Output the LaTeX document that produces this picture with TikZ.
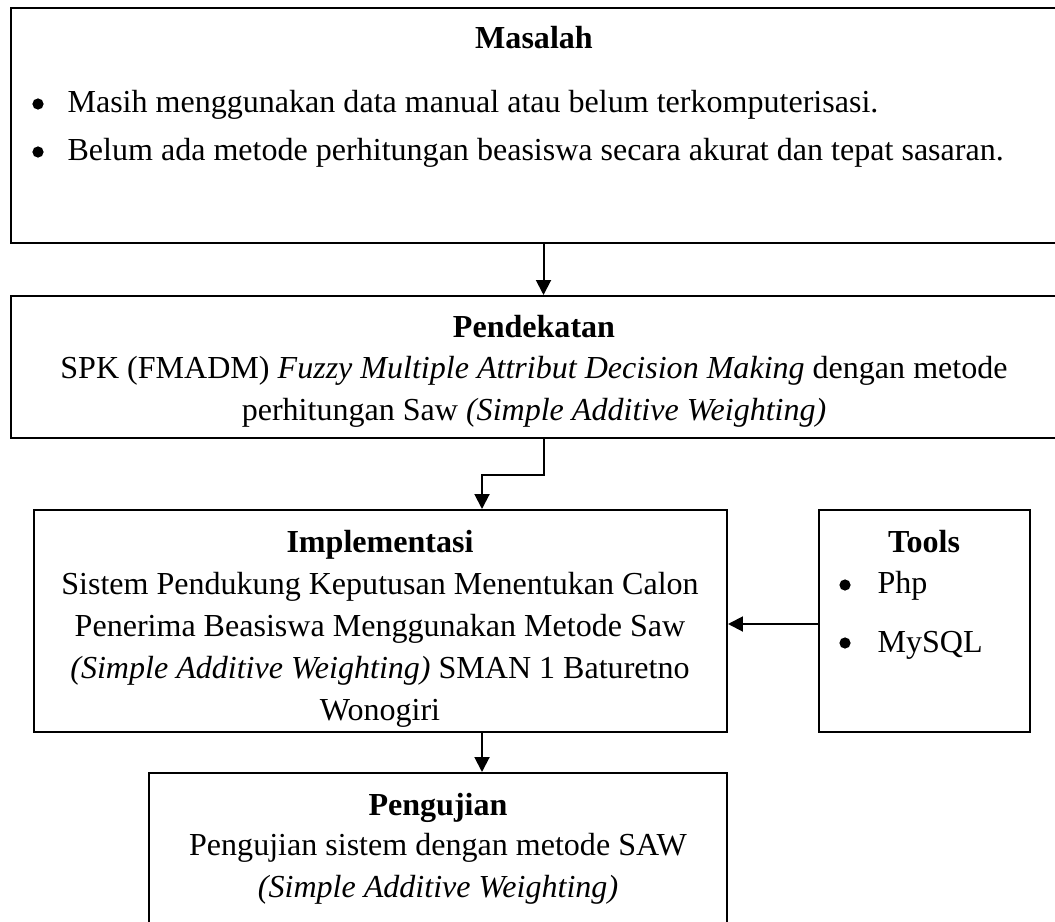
\documentclass[tikz,border=0pt]{standalone}
\usepackage{fontspec}
\setmainfont{Liberation Serif}
\usetikzlibrary{arrows.meta,fit,calc}

\tikzset{
  box/.style={draw, line width=0.75pt, inner sep=0pt},
  txt/.style={inner sep=0pt, font=\fontsize{12}{15.7}\selectfont},
  head/.style={txt, anchor=base, font=\fontsize{12}{15.7}\selectfont\bfseries},
  body/.style={txt, anchor=base, align=center},
  item/.style={txt, anchor=base west},
  dot/.style={circle, fill, inner sep=0pt, minimum size=4.2pt},
  arr/.style={-{Triangle[length=5.6pt,width=5.6pt]}, line width=0.75pt},
}

\begin{document}
\begin{tikzpicture}[x=0.3744pt, y=-0.3744pt]
    \useasboundingbox (0,0) rectangle (1055,922);
    \clip (0,0) rectangle (1055,922);

    % Boxes
    \node[box, fit={(11,8) (1058,243)}] (masalah) {};
    \node[box, fit={(11,296) (1058,438)}] (pendekatan) {};
    \node[box, fit={(34,510) (727,732)}] (implementasi) {};
    \node[box, fit={(819,510) (1030,732)}] (tools) {};
    \node[box, fit={(149,773) (727,950)}] (pengujian) {};

    % Masalah
    \node[head] (masalahT) at (534,49) {Masalah};
    \node[dot] (m1) at (38,104) {};
    \node[dot] (m2) at (38,152) {};
    \node[item] (m1T) at (67,113) {Masih menggunakan data manual atau belum terkomputerisasi.};
    \node[item] (m2T) at (67,161) {Belum ada metode perhitungan beasiswa secara akurat dan tepat sasaran.};

    % Pendekatan (base = last line)
    \node[head] (pendekatanT) at (534,337) {Pendekatan};
    \node[body] (pendekatanB) at (534,420) {SPK (FMADM) \textit{Fuzzy Multiple Attribut Decision Making} dengan metode\\
        perhitungan Saw \textit{(Simple Additive Weighting)}};

    % Implementasi
    \node[head] (implementasiT) at (380,552) {Implementasi};
    \node[body] (implementasiB) at (380,720) {Sistem Pendukung Keputusan Menentukan Calon\\
        Penerima Beasiswa Menggunakan Metode Saw\\
        \textit{(Simple Additive Weighting)} SMAN 1 Baturetno\\
        Wonogiri};

    % Tools
    \node[head] (toolsT) at (924,552) {Tools};
    \node[dot] (t1) at (845,585) {};
    \node[dot] (t2) at (845,643) {};
    \node[item] (t1T) at (877,593) {Php};
    \node[item] (t2T) at (877,652) {MySQL};

    % Pengujian
    \node[head] (pengujianT) at (438,815) {Pengujian};
    \node[body] (pengujianB) at (438,897) {Pengujian sistem dengan metode SAW\\
        \textit{(Simple Additive Weighting)}};

    % Arrows
    \draw[arr] ($(masalah.south)+(9,0)$) coordinate (a1) -- (a1 |- pendekatan.north);
    \draw[arr] ($(pendekatan.south)+(9,0)$) -- ++(0,36) -| ($(implementasi.north)+(101.5,0)$);
    \draw[arr] ($(tools.west)+(0,3)$) coordinate (a3) -- (a3 -| implementasi.east);
    \draw[arr] ($(implementasi.south)+(101.5,0)$) coordinate (a4) -- (a4 |- pengujian.north);
\end{tikzpicture}
\end{document}
